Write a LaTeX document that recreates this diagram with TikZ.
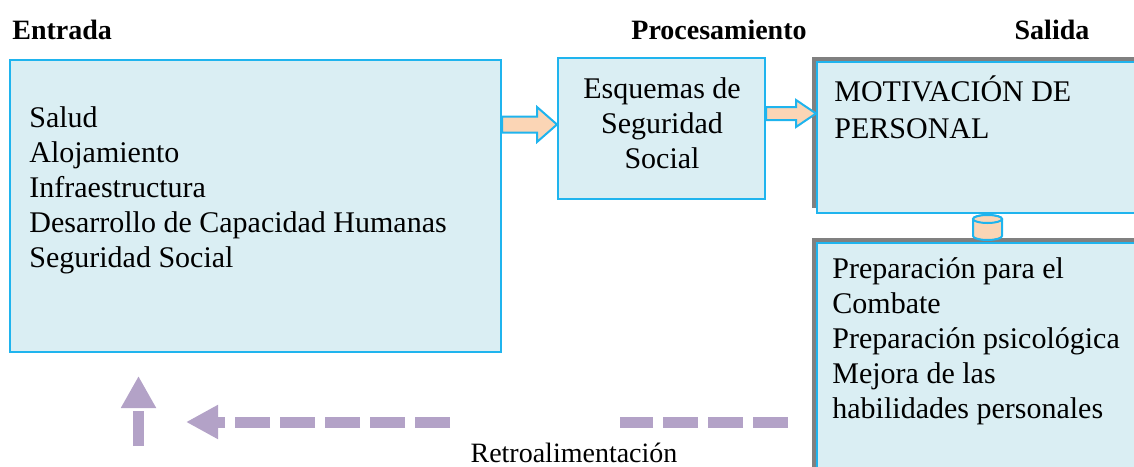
\documentclass[tikz,border=0pt]{standalone}
\usepackage{fontspec}
\setmainfont{Liberation Serif}
\usetikzlibrary{calc,shadows,arrows.meta}
\definecolor{boxfill}{HTML}{DAEEF3}
\definecolor{boxline}{HTML}{1FB4EE}
\definecolor{peach}{HTML}{FBD5B5}
\definecolor{lilac}{HTML}{B3A2C7}
\definecolor{shadowgray}{HTML}{808080}
\def\blockarrow(#1)(#2)#3#4{\draw[blockarrow] ($(#1)+(0,#3)$) -- ($(#2)+(-20,#3)$) -- ($(#2)+(-20,#4)$) -- (#2) -- ($(#2)+(-20,-#4)$) -- ($(#2)+(-20,-#3)$) -- ($(#1)+(0,-#3)$) -- cycle;}

\begin{document}
\begin{tikzpicture}[x=0.5pt,y=-0.5pt,
	box/.style={draw=boxline, fill=boxfill, line width=1pt, inner sep=0pt},
	shadowbox/.style={box, drop shadow={shadow xshift=-2.5pt, shadow yshift=2.5pt, fill=shadowgray, opacity=1}},
	header/.style={font=\bfseries\fontsize{14}{16}\selectfont, inner sep=0pt},
	itemtext/.style={font=\fontsize{15}{17.5}\selectfont, inner sep=0pt},
	blockarrow/.style={draw=boxline, fill=peach, line width=1pt, line join=miter},
	feedback/.style={draw=lilac, line width=5.5pt, dash pattern=on 17.5pt off 5pt}]
		%%%%% START %%%%%
		\clip (0,0) rectangle (1134,466);
		
		\node[header, anchor=west] (lblentrada) at (12,30) {Entrada};
		\node[header] (lblproc) at (719,30) {Procesamiento};
		\node[header] (lblsalida) at (1052,30) {Salida};
		
		% entrada
		\node[box, minimum width=245.5pt, minimum height=146pt] (entrada) at (255.5,206) {};
		\node[itemtext, anchor=west, align=left] (entradatxt) at (29,190) {Salud\\Alojamiento\\Infraestructura\\Desarrollo de Capacidad Humanas\\Seguridad Social};
		
		% procesamiento
		\node[box, minimum width=103.5pt, minimum height=70.5pt] (esquemas) at (661.5,128.5) {};
		\node[itemtext, align=center] (esquemastxt) at (662,123.5) {Esquemas de\\Seguridad\\Social};
		
		% salida
		\node[shadowbox, minimum width=171.5pt, minimum height=75.5pt] (motiv) at (988.5,137.5) {};
		\node[itemtext, anchor=west, align=left, font=\fontsize{15}{18.5}\selectfont] (motivtxt) at (834,107.5) {MOTIVACIÓN DE\\PERSONAL};
		\node[shadowbox, minimum width=171.5pt, minimum height=118.5pt] (prep) at (988.5,361.5) {};
		\node[itemtext, anchor=west, align=left] (preptxt) at (832,341) {Preparación para el\\Combate\\Preparación psicológica\\Mejora de las\\habilidades personales};
		
		% enlace
		\draw[blockarrow] (973,219) -- (973,236) arc[start angle=180, end angle=360, x radius=7.25pt, y radius=2pt] -- (1002,219) arc[start angle=0, end angle=180, x radius=7.25pt, y radius=2pt] -- cycle;
		\draw[blockarrow] (987.5,219) ellipse[x radius=7.25pt, y radius=2pt];
		
		\blockarrow(entrada.east |- 0,124.5)(esquemas.west |- 0,124.5){8}{17.5}
		\blockarrow(esquemas.east |- 0,113.5)(motiv.west |- 0,113.5){6.5}{13.5}
		
		% retroalimentacion
		\coordinate (fbstart) at (788,422);
		\coordinate (fbgapr) at (620,422);
		\coordinate (fbgapl) at (450,422);
		\coordinate (fbend) at (186,422);
		\coordinate (upfoot) at (138.5,446);
		\draw[feedback] (fbstart) -- (fbgapr);
		\draw[feedback, -{Triangle[length=16pt,width=16pt]}] (fbgapl) -- (fbend);
		\draw[feedback, -{Triangle[length=16pt,width=16.5pt]}, shorten >=11.5pt] (upfoot) -- (upfoot |- entrada.south);
		\node[itemtext, anchor=base, font=\fontsize{14}{16}\selectfont] (retro) at (574,462) {Retroalimentación};
		
		%%%%% END %%%%%
\end{tikzpicture}
\end{document}
